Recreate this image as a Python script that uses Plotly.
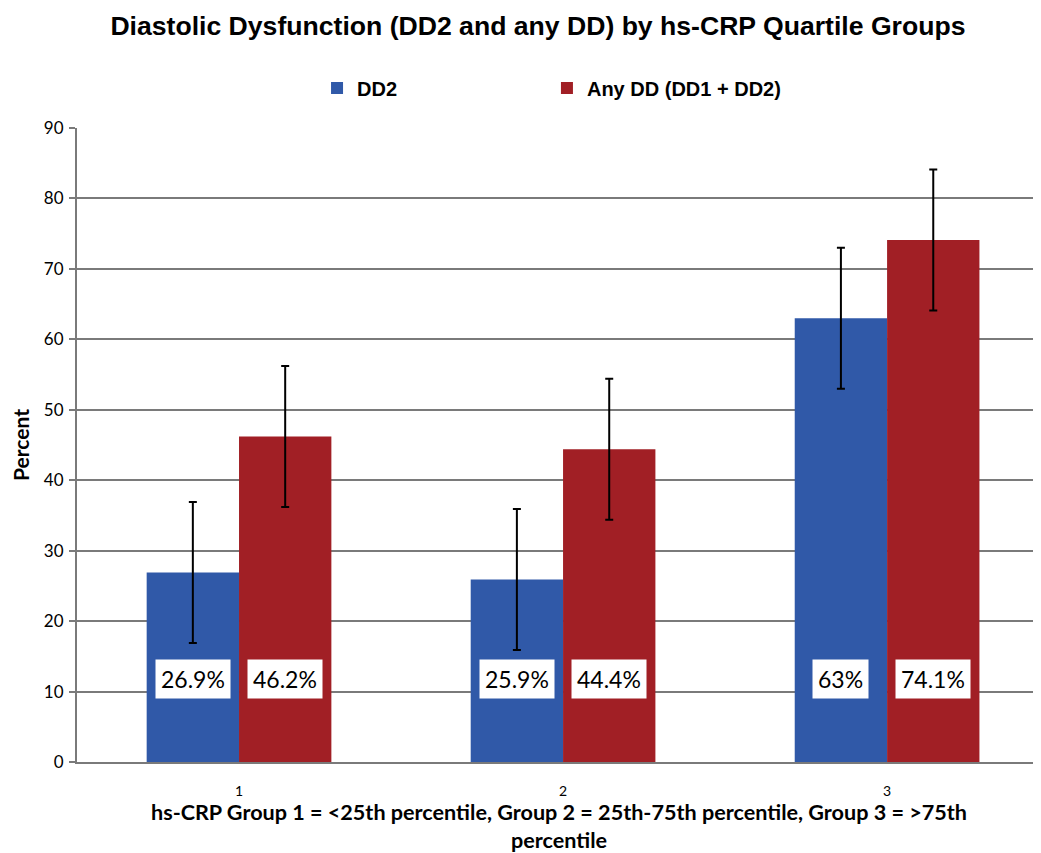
import plotly.graph_objects as go

groups = [1, 2, 3]
group_labels = ["1", "2", "3"]
dd2 = [26.9, 25.9, 63.0]
any_dd = [46.2, 44.4, 74.1]
dd2_err = [10, 10, 10]
any_dd_err = [10, 10, 10]
dd2_text = ["26.9%", "25.9%", "63%"]
any_dd_text = ["46.2%", "44.4%", "74.1%"]
y_ticks = [0, 10, 20, 30, 40, 50, 60, 70, 80, 90]

BLUE = "#3059A8"
RED = "#A11F25"
GRID = "#7A7A7A"
bargap = 0.43
half = (1 - bargap) / 4

fig = go.Figure()
fig.add_trace(go.Bar(
    x=groups, y=dd2, name="<b>DD2</b>", marker=dict(color=BLUE, line=dict(width=0)),
    error_y=dict(type="data", array=dd2_err, color="black", thickness=2, width=4),
    legend="legend",
))
fig.add_trace(go.Bar(
    x=groups, y=any_dd, name="<b>Any DD (DD1 + DD2)</b>", marker=dict(color=RED, line=dict(width=0)),
    error_y=dict(type="data", array=any_dd_err, color="black", thickness=2, width=4),
    legend="legend2",
))

annos = []
for g, t in zip(groups, dd2_text):
    annos.append(dict(x=g - half, y=11.8, text=t, showarrow=False, bgcolor="white",
                      borderpad=5, font=dict(family="Lato", size=23, color="black")))
for g, t in zip(groups, any_dd_text):
    annos.append(dict(x=g + half, y=11.8, text=t, showarrow=False, bgcolor="white",
                      borderpad=5, font=dict(family="Lato", size=23, color="black")))

legend_style = dict(orientation="h", xanchor="left", y=1.063, yanchor="middle", itemwidth=30,
                    font=dict(family="Liberation Sans", size=20, color="black"),
                    bgcolor="rgba(0,0,0,0)")

fig.update_layout(
    width=1033, height=845,
    margin=dict(l=69, r=0, t=120, b=91),
    paper_bgcolor="white", plot_bgcolor="white",
    barmode="group", bargap=bargap, bargroupgap=0,
    title=dict(text="<b>Diastolic Dysfunction (DD2 and any DD) by hs-CRP Quartile Groups</b>",
               x=0.513, xanchor="center", y=0.979, yanchor="middle",
               font=dict(family="Liberation Sans", size=26.6, color="black")),
    legend=dict(x=0.249, **legend_style),
    legend2=dict(x=0.4875, **legend_style),
    font=dict(family="Lato", color="black"),
    annotations=annos,
    showlegend=True,
)
fig.update_xaxes(
    range=[0.5, 3.475], tickvals=groups, ticktext=group_labels,
    showgrid=False, zeroline=False, showline=True, linecolor=GRID, linewidth=2,
    ticks="", ticklabelstandoff=15, tickfont=dict(family="Lato", size=14, color="black"),
    title=dict(text="<b>hs-CRP Group 1 = <25th percentile, Group 2 = 25th-75th percentile, Group 3 = >75th<br>percentile</b>",
               font=dict(family="Lato", size=21.6, color="black"), standoff=10),
)
fig.update_yaxes(
    range=[0, 90], tickvals=y_ticks, showgrid=True, gridcolor=GRID, gridwidth=2,
    zeroline=False, showline=True, linecolor=GRID, linewidth=2,
    ticks="outside", ticklen=6, tickcolor=GRID, tickwidth=2, ticklabelstandoff=2,
    tickfont=dict(family="Lato", size=17, color="black"),
    title=dict(text="<b>Percent</b>", font=dict(family="Lato", size=21, color="black"), standoff=14),
)
fig.write_html("out.html")
